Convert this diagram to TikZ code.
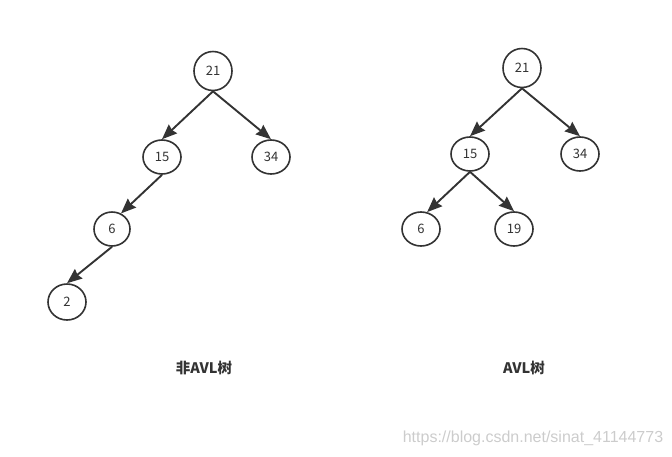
\documentclass[tikz,border=0pt]{standalone}
\usepackage{fontspec}
\setmainfont{Noto Sans CJK SC}
\newfontfamily\wmfont{Liberation Sans}
\usetikzlibrary{shapes.geometric,arrows.meta}
\definecolor{ink}{HTML}{333333}
\tikzset{
  tn/.style={ellipse,draw=ink,line width=1.6pt,minimum width=38pt,minimum height=36pt,inner sep=0pt,font=\fontsize{13}{15}\selectfont,text=ink},
  edge/.style={draw=ink,line width=1.9pt,-{Stealth[length=15pt,width=12pt,inset=1.5pt]}},
  lbl/.style={font=\fontsize{14.5}{17}\selectfont\bfseries,text=ink},
}
\begin{document}
\begin{tikzpicture}[x=1pt,y=-1pt]
\useasboundingbox (0,0) rectangle (672,456);
% left tree
\node[tn,minimum height=39pt] (a21) at (213,71) {21};
\node[tn,minimum height=34pt] (a15) at (162,157) {15};
\node[tn,minimum height=34pt] (a34) at (271,157) {34};
\node[tn,minimum width=36pt,minimum height=34pt] (a6) at (112,229) {6};
\node[tn] (a2) at (67,302) {2};
\draw[edge] (a21.south) -- (a15.north);
\draw[edge] (a21.south) -- (a34.north);
\draw[edge] (a15.south) -- (a6.60);
\draw[edge] (a6.south) -- (a2.north);
% right tree
\node[tn,minimum height=39pt] (b21) at (522,68) {21};
\node[tn,minimum height=34pt] (b15) at (470,154) {15};
\node[tn,minimum height=34pt] (b34) at (580,154) {34};
\node[tn,minimum height=34pt] (b6) at (421,229) {6};
\node[tn,minimum height=34pt] (b19) at (514,229) {19};
\draw[edge] (b21.south) -- (b15.north);
\draw[edge] (b21.south) -- (b34.north);
\draw[edge] (b15.south) -- (b6.70);
\draw[edge] (b15.south) -- (b19.north);
% labels
\node[lbl] (l1) at (204,368) {非AVL树};
\node[lbl] (l2) at (524,368) {AVL树};
\node[font=\wmfont\fontsize{16}{18}\selectfont,text=black!20] (wm) at (533,438) {https://blog.csdn.net/sinat\_41144773};
\end{tikzpicture}
\end{document}
